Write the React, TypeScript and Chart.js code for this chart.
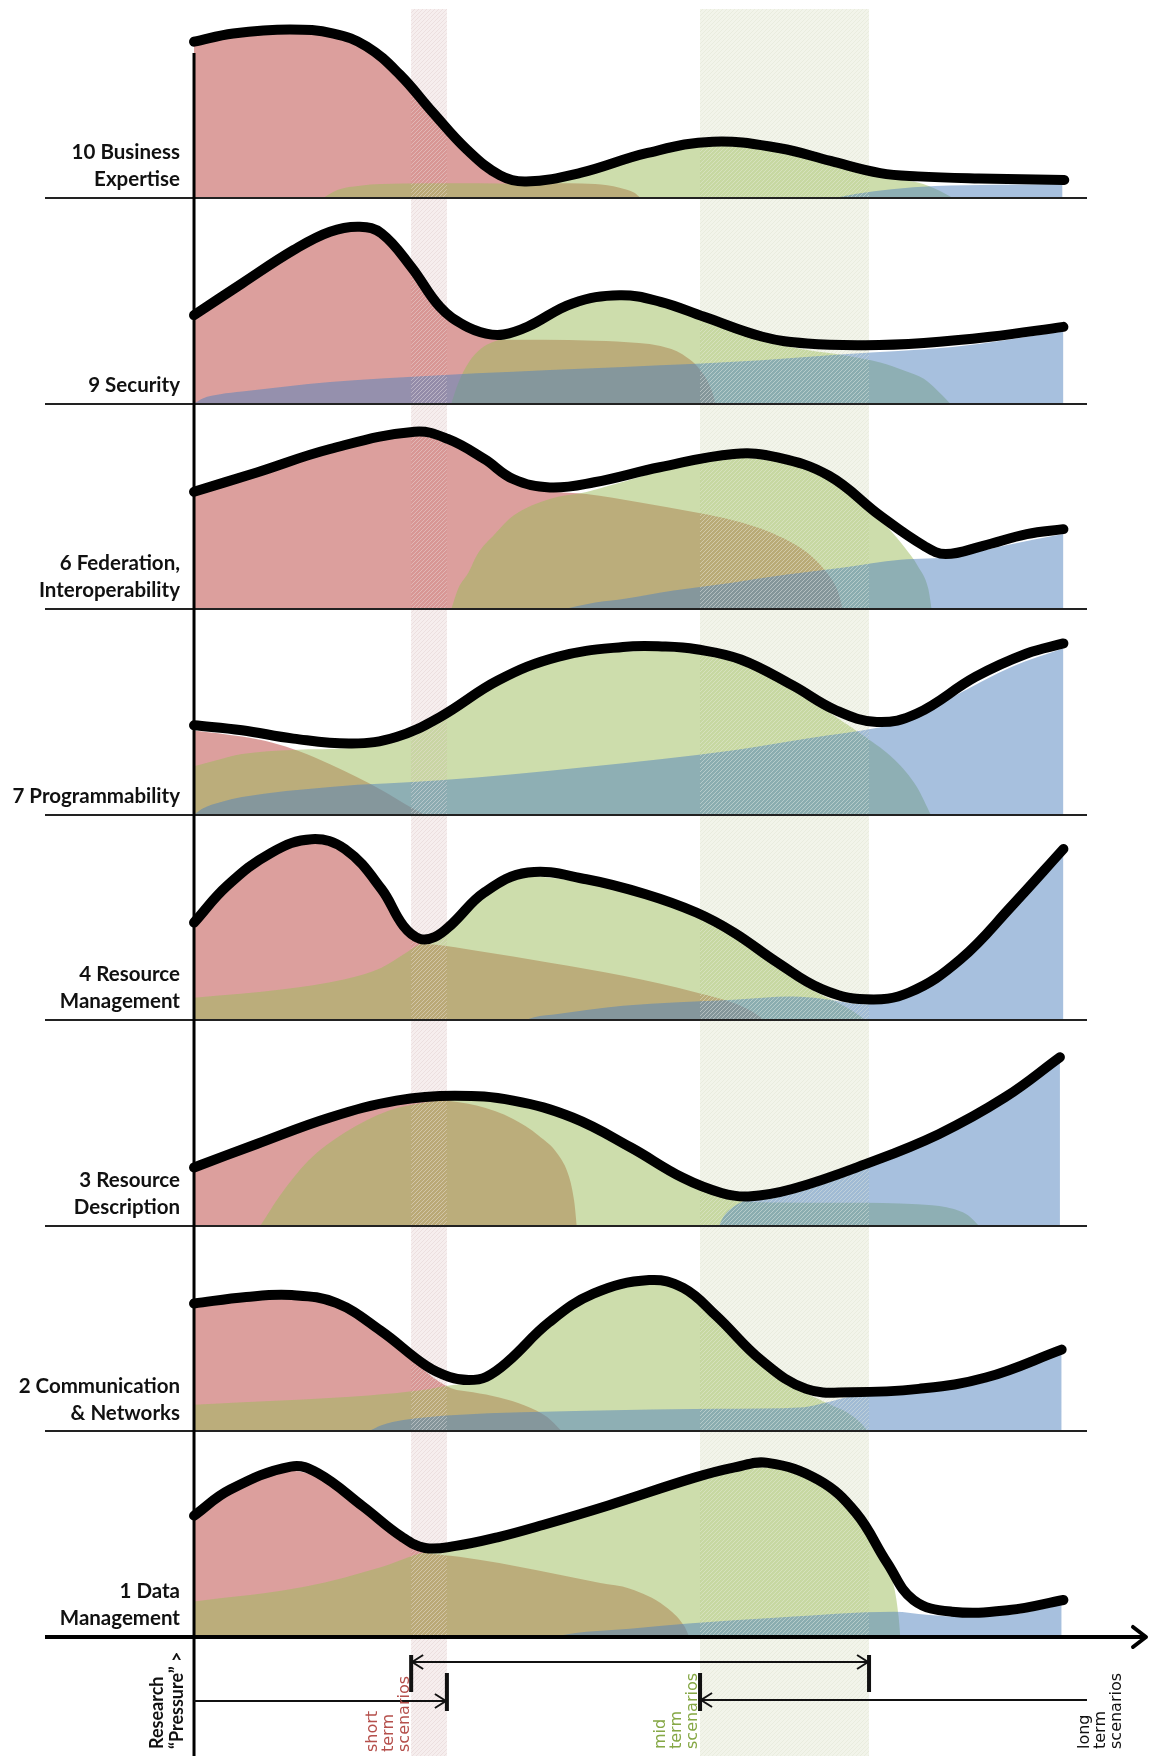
import React, { useEffect, useRef } from "react";
import { Chart, registerables } from "chart.js";

Chart.register(...registerables);

type Pt = [number, number];

// ---- values: [time position 0..100, research pressure 0..100] per panel ----
// 10 Business Expertise
const bizBlack: Pt[] = [[0,76],[4.5,80],[11,82],[16,80],[19.8,73.7],[23.6,60],[27.4,41.5],[31.3,23.5],[35.1,11],[38.1,8],[44.3,12.2],[51.9,21.8],[59.5,27.4],[67.2,24.2],[73,18],[78.7,12.1],[83,10.5],[90,9.5],[99.8,8.8]];
const bizRed: Pt[] = [[0,74],[4.5,78],[11,80],[16,78],[19.8,71.7],[23.6,58],[27.4,39.5],[31.3,21.5],[34,11],[36.5,7.3],[40,7.2],[46,6.8],[48.8,5],[50.5,2.5],[51.2,0]];
const bizGreen: Pt[] = [[14.8,0],[16.5,4],[19,6],[24,7],[30,7.2],[35,7],[38.1,6.3],[44.3,10.3],[51.9,19.8],[59.5,25.4],[67.2,22.2],[73,16],[78.7,10.2],[83,7.5],[85.5,3.5],[87,0]];
const bizBlue: Pt[] = [[73.5,0],[76,2],[80,4.3],[85,5.8],[92,6.4],[99.6,6.8]];

// 9 Security
const secBlack: Pt[] = [[0,43],[5.5,58.4],[11.4,74.6],[15.6,83.6],[19,86],[21.5,82.8],[24.9,66.5],[28.2,47],[31,38],[33.5,34],[35.5,33.6],[38.3,37.5],[43.4,48.7],[48.8,52.7],[53.5,49.5],[58.5,42.2],[65.2,32.5],[70.3,29.2],[77,28.4],[83.7,29.5],[91.3,32.5],[99.7,37.3]];
const secRed: Pt[] = [[0,41],[5.5,56.4],[11.4,72.6],[15.6,81.6],[19,84],[21.5,80.8],[24.9,64.5],[28.2,45],[31,36],[33.5,32],[36,31],[40,31],[46,30.6],[51,29.5],[53.5,28],[56,24],[58.3,15],[59.4,6],[59.8,0]];
const secGreen: Pt[] = [[29.5,0],[30.3,10],[31.5,20],[33,27],[35,31],[38.3,35.5],[43.4,46.7],[48.8,50.7],[53.5,47.5],[58.5,40.2],[63,34],[66.5,29.5],[70.3,26],[74.5,23.5],[78.7,20],[81.5,16],[83.7,12],[85.8,4],[86.7,0]];
const secBlue: Pt[] = [[0,0],[1,2.5],[3,4.5],[5.5,5.8],[15.6,10.5],[28.2,13.8],[45,17],[61.9,20.3],[74.5,24],[87,27.5],[99.7,35]];

// 6 Federation, Interoperability
const fedBlack: Pt[] = [[0,57.1],[7.2,66.5],[15.6,77.9],[25.3,86.3],[29.1,82.8],[33.3,73],[36.6,63.3],[40.8,59.2],[45.9,61.7],[53.4,69],[61.9,75.5],[66.9,73.8],[72.8,64.9],[78.7,45.4],[83.7,30.8],[86.2,26.8],[90.5,30.8],[95.5,36.5],[99.7,38.9]];
const fedRed: Pt[] = [[0,55],[7.2,64.5],[15.6,76],[25.3,84.3],[29.1,80.8],[33.3,71],[36.6,61.3],[40.8,57.3],[45,56],[51,52],[57.6,47],[62,43],[66,37.5],[70.3,27.5],[72.5,18],[73.8,9],[74.4,0]];
const fedGreen: Pt[] = [[29.5,0],[30.3,10],[31.5,18],[32.4,26],[34.5,36.5],[36.6,45.4],[40.8,53.6],[45,57],[48,60.5],[53.4,67],[61.9,73.5],[66.9,71.8],[72.8,63],[77,49],[79.5,40],[81.5,30],[83,21],[84.2,10],[84.6,0]];
const fedBlue: Pt[] = [[42.5,0],[44,1.5],[46,3.2],[49.2,4.9],[55,9],[61.9,13],[68,16.8],[74.5,20.3],[81,24],[87.1,25.5],[93,31],[99.7,36.5]];

// 7 Programmability
const progBlack: Pt[] = [[0,43.5],[5.5,41.1],[11.4,37],[18.1,34.6],[23.2,37.8],[28.2,47.5],[34.9,65.4],[41.7,76.8],[49.2,81.6],[54,81.8],[57.6,80.5],[62.7,75.5],[68.6,63],[73.6,50.8],[78.3,45.1],[82.9,49.2],[89.6,67],[95.5,78.4],[99.7,83.3]];
const progRed: Pt[] = [[0,41],[5.5,38],[9,35],[12,31],[15.6,24.5],[21.5,12],[24.9,3.5],[26.5,0]];
const progGreen: Pt[] = [[0,23.5],[3,27],[5.5,29.5],[11.4,31.5],[18.1,32.4],[23.2,35.6],[28.2,45.3],[34.9,63.2],[41.7,74.6],[49.2,79.4],[54,79.6],[57.6,78.3],[62.7,73.4],[68.6,61],[72,52],[74.5,45],[77,37.8],[80.4,26.5],[82.9,13.5],[84.5,0]];
const progBlue: Pt[] = [[0,0],[1,3],[3,6],[5.5,8.6],[15.6,13.5],[28.2,16.7],[45,23.2],[61.9,31.3],[70.3,37],[78.7,42.5],[82,46],[87.1,57.5],[93.8,72],[99.7,81]];

// 4 Resource Management
const rmBlack: Pt[] = [[0,47.5],[3.8,65.4],[8.9,81.6],[13.5,88.1],[17.3,83.3],[21.5,63.8],[24,46],[25.9,39.6],[27.6,40.5],[29.5,46.5],[33.3,62.2],[38.3,71.9],[45,68.6],[51.8,61.3],[57.6,52.4],[61.9,42.7],[66.9,28.1],[72,15.1],[77,10.2],[82,13.5],[87.9,29.7],[93.8,55.7],[99.7,83.3]];
const rmRed: Pt[] = [[0,45.5],[3.8,63.4],[8.9,79.6],[13.5,86],[17.3,81.3],[21.5,61.8],[24,44],[26,37.5],[27.5,36.8],[32.4,33.8],[40.8,28],[49.2,21.6],[57.6,13.5],[62.7,7],[64.8,2],[65.4,0]];
const rmGreen: Pt[] = [[0,11],[10,15],[17.3,20],[21.5,25.6],[24,32],[26,37.3],[29.5,44.3],[33.3,60.2],[38.3,69.9],[45,66.6],[51.8,59.3],[57.6,50.4],[61.9,40.7],[66.9,26.3],[70.3,16],[74.5,7],[76.4,2],[77,0]];
const rmBlue: Pt[] = [[37.9,0],[39,1.5],[41.7,3],[49.2,7],[61.9,10],[68.6,11.5],[72,10.5],[77,7.8],[80,9],[82,11.3],[87.9,27.5],[93.8,53.5],[99.7,81.3]];

// 3 Resource Description
const rdBlack: Pt[] = [[0,28.4],[7.2,39.8],[15.6,52.7],[23.2,60.9],[29.9,63.3],[36.6,60.9],[43.4,52.7],[50.1,38.1],[56,23.5],[60.5,16],[63.6,14.3],[68.6,17.9],[77,30],[85.4,44.6],[93,62.5],[99.3,82]];
const rdRed: Pt[] = [[0,26.5],[7.2,37.8],[15.6,50.7],[23.2,58.9],[28,61],[32.4,58.5],[36.6,52],[39.5,44],[41.7,35],[43,24],[43.6,12],[43.9,0]];
const rdGreen: Pt[] = [[7.6,0],[8.5,6],[9.7,13.8],[13.1,31.6],[17.3,45.4],[22.3,56],[26.5,60],[29.9,61.3],[36.6,58.9],[43.4,50.7],[50.1,36.1],[56,21.5],[59.5,16.2],[62,12.3],[66,11.4],[75,11.2],[83,10.5],[86.3,9],[88.8,5],[90,0]];
const rdBlue: Pt[] = [[60.2,0],[60.8,5],[61.8,9],[63,12],[65,13.2],[68.6,15.7],[77,27.8],[85.4,42.4],[93,60.3],[99.3,79.8]];

// 2 Communication & Networks
const commBlack: Pt[] = [[0,62.2],[6,65.4],[11.2,66.3],[16.3,62.5],[21.4,49],[26.6,32],[29.3,26.5],[31.5,25],[33.5,26.5],[36,34],[40.7,53],[45.8,67],[52.2,73.6],[56.1,69.8],[59.9,56.2],[65.1,34.4],[70.2,20.7],[75.4,19.1],[83.1,20.7],[90.8,26.2],[99.5,39.8]];
const commRed: Pt[] = [[0,60.2],[6,63.4],[11.2,64.3],[16.3,60.5],[21.4,47],[25,35],[27.5,26],[29.5,21],[32,19],[35,16.5],[38,12.5],[40.5,7],[42.2,0]];
const commGreen: Pt[] = [[0,13],[10,15],[20,17.5],[26,20],[29.5,22.5],[31.5,23],[33.5,24.5],[36,32],[40.7,51],[45.8,65],[52.2,71.6],[56.1,67.8],[59.9,54.2],[65.1,32.4],[70.2,18.7],[73,13],[75,9],[76.5,4],[77.3,0]];
const commBlue: Pt[] = [[20,0],[21.5,3],[24,5.5],[30,8],[45,10],[60,11],[70,11.8],[72.5,14],[75.4,16.8],[83.1,18.5],[90.8,24],[99.5,37.6]];

// 1 Data Management
const dmBlack: Pt[] = [[0,59],[4.1,71.6],[11.1,82.9],[14.2,79.7],[19.4,63.4],[23.8,48.8],[26.5,43.3],[30,44.3],[34.8,48.5],[40,54.5],[47.5,64],[57.4,77.5],[62,82.5],[65.8,84.7],[71.6,76.4],[75.9,60.4],[79.5,36],[82.5,18],[86.9,12.3],[93.5,13.1],[99.7,18]];
const dmRed: Pt[] = [[0,57],[4.1,69.6],[11.1,80.9],[14.2,77.7],[19.4,61.4],[23.8,46.8],[26.5,41.3],[30.4,39],[35,36],[39.2,32.6],[46.6,26.2],[50,23.5],[54,15],[56.2,5.4],[56.8,0]];
const dmGreen: Pt[] = [[0,17.2],[12.8,24.5],[21.6,34.2],[26.5,41.1],[30,42.1],[34.8,46.5],[40,52.5],[47.5,62],[57.4,75.5],[62,80.5],[65.8,82.5],[71.6,74.2],[75.9,58.2],[79,38],[80.3,24],[80.8,10],[81,0]];
const dmBlue: Pt[] = [[41,0],[43,1.5],[45,2.5],[50,4],[56.7,6.5],[67.1,9.5],[80.3,12.3],[84,10.8],[87,10],[93.5,10.8],[99.5,15.5]];

// categories (bottom panel first)
const panelLabels: string[][] = [
  ["1 Data", "Management"],
  ["2 Communication", "& Networks"],
  ["3 Resource", "Description"],
  ["4 Resource", "Management"],
  ["7 Programmability"],
  ["6 Federation,", "Interoperability"],
  ["9 Security"],
  ["10 Business", "Expertise"],
];
const blackSeries: Pt[][] = [dmBlack, commBlack, rdBlack, rmBlack, progBlack, fedBlack, secBlack, bizBlack];
const redSeries: Pt[][] = [dmRed, commRed, rdRed, rmRed, progRed, fedRed, secRed, bizRed];
const greenSeries: Pt[][] = [dmGreen, commGreen, rdGreen, rmGreen, progGreen, fedGreen, secGreen, bizGreen];
const blueSeries: Pt[][] = [dmBlue, commBlue, rdBlue, rmBlue, progBlue, fedBlue, secBlue, bizBlue];

const axisTitle = ["Research", "\u201CPressure\u201D >"];
const shortLabel = ["short", "term", "scenarios"];
const midLabel = ["mid", "term", "scenarios"];
const longLabel = ["long", "term", "scenarios"];
const shortBand: [number, number] = [24.9, 29.0];
const midBand: [number, number] = [58.03, 77.41];

// ---- layout ----
const W = 1150;
const H = 1756;
const X_MIN = -22.25;
const X_MAX = 109.63;
const Y_MIN = -57.9;
const Y_MAX = 796.3;
const STEP = 100;

const RED = "rgba(192,80,77,0.55)";
const GREEN = "rgba(155,187,89,0.5)";
const BLUE = "rgba(79,129,189,0.5)";

function makePattern(ctx: CanvasRenderingContext2D, bg: string, line: string) {
  const c = document.createElement("canvas");
  c.width = 4;
  c.height = 4;
  const g = c.getContext("2d")!;
  if (bg) {
    g.fillStyle = bg;
    g.fillRect(0, 0, 4, 4);
  }
  g.strokeStyle = line;
  g.lineWidth = 1;
  g.beginPath();
  g.moveTo(0, 4); g.lineTo(4, 0);
  g.moveTo(-1, 1); g.lineTo(1, -1);
  g.moveTo(3, 5); g.lineTo(5, 3);
  g.stroke();
  return ctx.createPattern(c, "repeat")!;
}

let overlayDone = false;

const decor = {
  id: "decor",
  beforeDatasetsDraw(chart: any) {
    overlayDone = false;
    const ctx: CanvasRenderingContext2D = chart.ctx;
    const xs = chart.scales.x;
    ctx.save();
    const bands: [[number, number], string, string][] = [
      [shortBand, "#f6eeee", "#e0caca"],
      [midBand, "#f2f4ea", "#dbe0c9"],
    ];
    for (const [b, bg, ln] of bands) {
      const x0 = xs.getPixelForValue(b[0]);
      const x1 = xs.getPixelForValue(b[1]);
      ctx.fillStyle = makePattern(ctx, bg, ln);
      ctx.fillRect(x0, 9, x1 - x0, H - 9);
    }
    ctx.restore();
  },
  beforeDatasetDraw(chart: any, args: any) {
    const ds = chart.data.datasets[args.index];
    if (overlayDone || !String(ds.label).startsWith("curve")) return;
    overlayDone = true;
    const ctx: CanvasRenderingContext2D = chart.ctx;
    const xs = chart.scales.x;
    const ys = chart.scales.y;
    ctx.save();
    // hatch overlay of the bands on top of the areas
    for (const b of [shortBand, midBand]) {
      const x0 = xs.getPixelForValue(b[0]);
      const x1 = xs.getPixelForValue(b[1]);
      ctx.fillStyle = makePattern(ctx, "", "rgba(255,255,255,0.4)");
      ctx.fillRect(x0, 9, x1 - x0, H - 9);
    }
    // panel baselines
    ctx.strokeStyle = "#222";
    ctx.lineWidth = 2;
    for (let k = 1; k < panelLabels.length; k++) {
      const y = Math.round(ys.getPixelForValue(k * STEP));
      ctx.beginPath();
      ctx.moveTo(45, y);
      ctx.lineTo(1087, y);
      ctx.stroke();
    }
    // vertical axis
    const x0 = xs.getPixelForValue(0);
    ctx.strokeStyle = "#000";
    ctx.lineWidth = 3;
    ctx.beginPath();
    ctx.moveTo(x0, 53);
    ctx.lineTo(x0, H);
    ctx.stroke();
    // main time axis with arrow
    const yb = ys.getPixelForValue(0);
    ctx.lineWidth = 4;
    ctx.beginPath();
    ctx.moveTo(45, yb);
    ctx.lineTo(1145, yb);
    ctx.stroke();
    ctx.lineCap = "round";
    ctx.lineJoin = "round";
    ctx.beginPath();
    ctx.moveTo(1133, yb - 10);
    ctx.lineTo(1146, yb);
    ctx.lineTo(1133, yb + 10);
    ctx.stroke();
    ctx.restore();
  },
  afterDraw(chart: any) {
    const ctx: CanvasRenderingContext2D = chart.ctx;
    const xs = chart.scales.x;
    const ys = chart.scales.y;
    ctx.save();
    // panel labels
    ctx.fillStyle = "#111";
    ctx.font = "bold 20.5px Lato";
    ctx.textAlign = "right";
    ctx.textBaseline = "middle";
    panelLabels.forEach((lines, k) => {
      const yb = ys.getPixelForValue(k * STEP);
      const n = lines.length;
      lines.forEach((t, i) => {
        ctx.fillText(t, 180, yb - 18.5 - (n - 1 - i) * 27);
      });
    });

    // scenario arrows
    const sL = xs.getPixelForValue(shortBand[0]);
    const sR = xs.getPixelForValue(shortBand[1]);
    const mL = xs.getPixelForValue(midBand[0]);
    const mR = xs.getPixelForValue(midBand[1]);
    const ax = xs.getPixelForValue(0);
    ctx.strokeStyle = "#111";
    ctx.lineWidth = 2;
    const hline = (xa: number, xb: number, y: number) => {
      ctx.beginPath(); ctx.moveTo(xa, y); ctx.lineTo(xb, y); ctx.stroke();
    };
    const chev = (x: number, y: number, dir: number) => {
      ctx.beginPath();
      ctx.moveTo(x - dir * 11, y - 7);
      ctx.lineTo(x, y);
      ctx.lineTo(x - dir * 11, y + 7);
      ctx.stroke();
    };
    hline(sL, mR, 1662);
    chev(sL + 1, 1662, -1);
    chev(mR - 1, 1662, 1);
    hline(ax, sR, 1701);
    chev(sR - 1, 1701, 1);
    hline(mL, 1087, 1700);
    chev(mL + 1, 1700, -1);
    ctx.lineWidth = 4;
    const tick = (x: number, ya: number, yb: number) => {
      ctx.beginPath(); ctx.moveTo(x, ya); ctx.lineTo(x, yb); ctx.stroke();
    };
    tick(sL, 1655, 1692);
    tick(mR, 1655, 1692);
    tick(sR, 1673, 1711);
    tick(mL, 1673, 1711);

    // rotated texts
    const vtext = (lines: string[], baselines: number[], startY: number, font: string, color: string) => {
      ctx.font = font;
      ctx.fillStyle = color;
      ctx.textAlign = "left";
      ctx.textBaseline = "alphabetic";
      lines.forEach((t, i) => {
        ctx.save();
        ctx.translate(baselines[i], startY);
        ctx.rotate(-Math.PI / 2);
        ctx.fillText(t, 0, 0);
        ctx.restore();
      });
    };
    vtext(axisTitle, [163, 183], 1749, "bold 18px Lato", "#111");
    vtext(shortLabel, [377, 393, 409], 1752, "16px 'DejaVu Sans'", "#b5504c");
    vtext(midLabel, [665, 681, 697], 1749, "16px 'DejaVu Sans'", "#86a846");
    vtext(longLabel, [1089, 1105, 1121], 1749, "16px 'DejaVu Sans'", "#111");
    ctx.restore();
  },
};

export default function App() {
  const ref = useRef<HTMLCanvasElement>(null);
  useEffect(() => {
    const canvas = ref.current!;
    const datasets: any[] = [];
    const areaCommon = { pointRadius: 0, pointHoverRadius: 0, cubicInterpolationMode: "monotone" };
    blackSeries.forEach((black, k) => {
      const base = k * STEP;
      const toXY = (arr: Pt[]) => arr.map(([x, v]) => ({ x, y: base + v }));
      datasets.push({
        label: `curve-${k}`,
        data: toXY(black),
        pointRadius: 0,
        pointHoverRadius: 0,
        tension: 0.4,
        borderColor: "#000",
        borderWidth: 10,
        borderCapStyle: "round",
        borderJoinStyle: "round",
        fill: false,
        order: 0,
      });
      datasets.push({
        ...areaCommon,
        label: `blue-${k}`,
        data: toXY(blueSeries[k]),
        backgroundColor: BLUE,
        borderColor: "rgba(0,0,0,0)",
        borderWidth: 0,
        fill: { value: base },
        order: 1,
      });
      datasets.push({
        ...areaCommon,
        label: `green-${k}`,
        data: toXY(greenSeries[k]),
        backgroundColor: GREEN,
        borderColor: "rgba(0,0,0,0)",
        borderWidth: 0,
        fill: { value: base },
        order: 2,
      });
      datasets.push({
        ...areaCommon,
        label: `red-${k}`,
        data: toXY(redSeries[k]),
        backgroundColor: RED,
        borderColor: "rgba(0,0,0,0)",
        borderWidth: 0,
        fill: { value: base },
        order: 3,
      });
    });

    const chart = new Chart(canvas, {
      type: "line",
      data: { datasets },
      options: {
        animation: false,
        responsive: false,
        maintainAspectRatio: false,
        devicePixelRatio: 1,
        events: [],
        layout: { padding: 0 },
        plugins: { legend: { display: false }, tooltip: { enabled: false } },
        scales: {
          x: { type: "linear", min: X_MIN, max: X_MAX, display: false },
          y: { type: "linear", min: Y_MIN, max: Y_MAX, display: false },
        },
      },
      plugins: [decor],
    } as any);
    return () => chart.destroy();
  }, []);

  return (
    <div style={{ position: "absolute", left: 0, top: 0, width: W, height: H, background: "#fff" }}>
      <canvas ref={ref} width={W} height={H} style={{ display: "block", width: W, height: H }} />
    </div>
  );
}
